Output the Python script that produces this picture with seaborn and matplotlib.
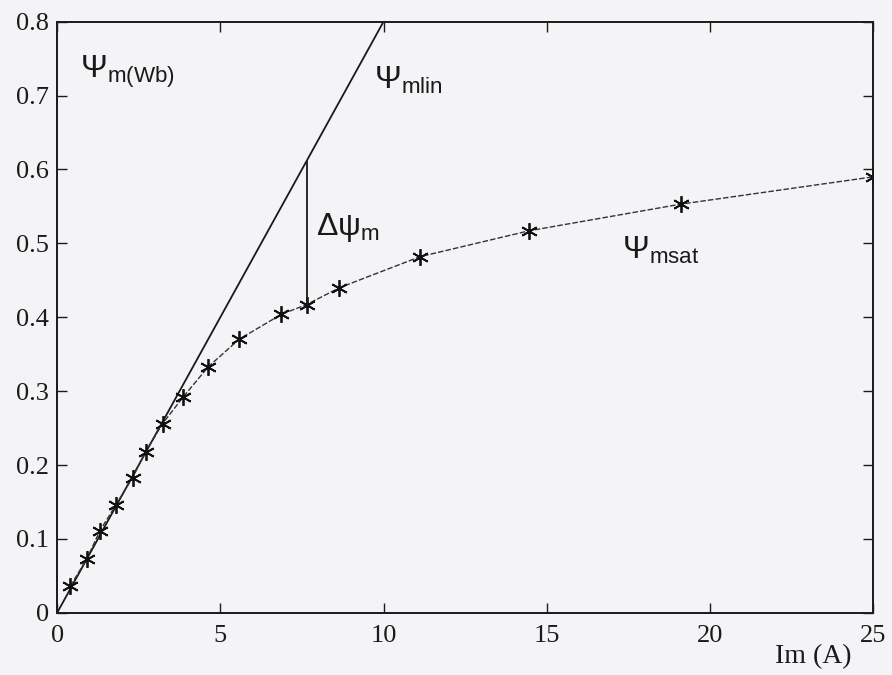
import matplotlib
matplotlib.use("Agg")
import matplotlib.pyplot as plt
import seaborn as sns
import numpy as np
import pandas as pd

# saturated magnetising flux curve
im_sat = [0.40, 0.91, 1.31, 1.80, 2.31, 2.71, 3.23, 3.86, 4.63, 5.57, 6.87,
          7.64, 8.65, 11.12, 14.46, 19.10, 25.00]
psi_sat = [0.036, 0.073, 0.111, 0.146, 0.183, 0.218, 0.256, 0.292, 0.333,
           0.370, 0.404, 0.417, 0.440, 0.482, 0.517, 0.553, 0.590]

# linear (unsaturated) flux line
im_lin = [0.0, 10.0]
psi_lin = [0.0, 0.8]

# point where delta psi is shown
idx_delta = 11

x_ticks = [0, 5, 10, 15, 20, 25]
y_ticks = [0, 0.1, 0.2, 0.3, 0.4, 0.5, 0.6, 0.7, 0.8]

sns.set_style("ticks")
plt.rcParams["font.family"] = ["Liberation Serif", "DejaVu Serif"]
plt.rcParams["mathtext.fontset"] = "custom"
plt.rcParams["mathtext.rm"] = "Liberation Sans"
plt.rcParams["mathtext.it"] = "Liberation Sans:italic"

bg = "#f4f4f6"
fig = plt.figure(figsize=(8.92, 6.75), dpi=100, facecolor=bg)
ax = fig.add_axes([0.064, 0.092, 0.915, 0.876])
ax.set_facecolor(bg)

df_sat = pd.DataFrame({"Im": im_sat, "psi": psi_sat})
df_lin = pd.DataFrame({"Im": im_lin, "psi": psi_lin})

sns.lineplot(data=df_lin, x="Im", y="psi", ax=ax, color="#1a1a1a", lw=1.3)
sns.lineplot(data=df_sat, x="Im", y="psi", ax=ax, color="#333333", lw=1.0,
             linestyle=(0, (4, 1.5)), marker=(6, 2, 0), markersize=12,
             markeredgewidth=1.3, markeredgecolor="#111111")

# delta psi vertical segment
slope = psi_lin[1] / im_lin[1]
xd = im_sat[idx_delta]
ax.vlines(xd, psi_sat[idx_delta], slope * xd, color="#1a1a1a", lw=1.3)

ax.set_xlim(0, 25)
ax.set_ylim(0, 0.8)
ax.set_xticks(x_ticks)
ax.set_yticks(y_ticks)
ax.set_xticklabels([str(t) for t in x_ticks])
ax.set_yticklabels(["0" if t == 0 else f"{t:.1f}" for t in y_ticks])
ax.tick_params(direction="in", length=7, width=1.0, top=True, right=True,
               labelsize=19, colors="#1a1a1a")
ax.tick_params(axis="x", pad=9)
ax.tick_params(axis="y", pad=6)
for s in ax.spines.values():
    s.set_visible(True)
    s.set_linewidth(1.4)
    s.set_color("#1a1a1a")
ax.set_xlabel("")
ax.set_ylabel("")

txt = dict(color="#1a1a1a", fontsize=23, va="center", ha="left")
ax.text(0.7, 0.732, r"$\Psi_{\mathrm{m(Wb)}}$", **txt)
ax.text(9.72, 0.721, r"$\Psi_{\mathrm{mlin}}$", **txt)
ax.text(7.92, 0.522, r"$\mathrm{\Delta\psi}_{\mathrm{m}}$", **txt)
ax.text(17.3, 0.49, r"$\Psi_{\mathrm{msat}}$", **txt)

fig.text(0.869, 0.018, "Im (A)", fontsize=20, color="#1a1a1a", ha="left")

fig.savefig("out.png", dpi=100, facecolor=bg)
